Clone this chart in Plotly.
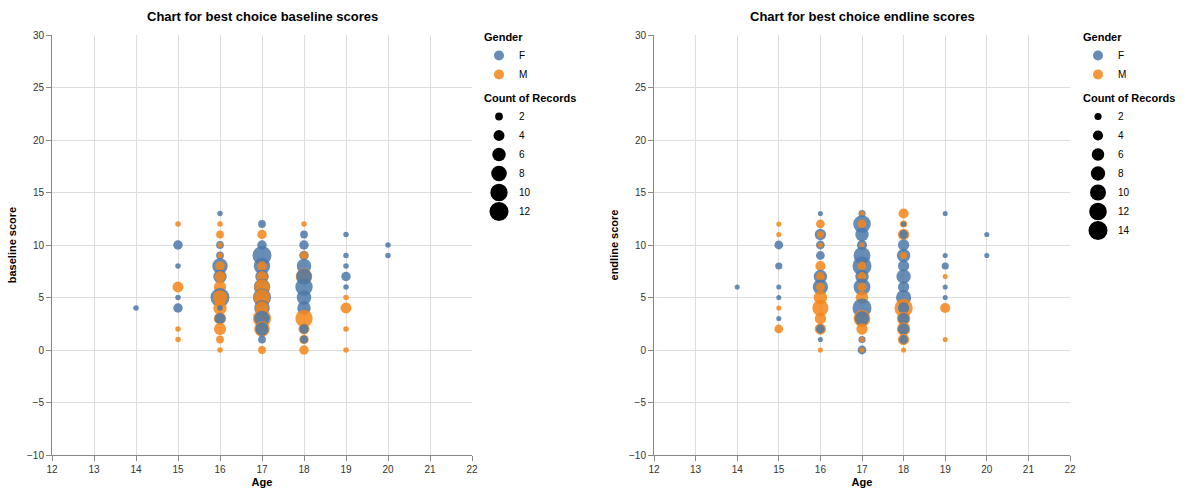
import plotly.graph_objects as go

# ---- baseline data: age, score, gender, count of records (one entry per circle)
base_age = [14,
            15, 15, 15, 15, 15, 15, 15, 15,
            16, 16, 16, 16, 16, 16, 16, 16, 16, 16, 16, 16, 16, 16, 16, 16, 16, 16, 16, 16, 16,
            17, 17, 17, 17, 17, 17, 17, 17, 17, 17, 17, 17, 17, 17, 17, 17, 17, 17, 17, 17,
            18, 18, 18, 18, 18, 18, 18, 18, 18, 18, 18, 18, 18, 18, 18, 18, 18,
            19, 19, 19, 19, 19, 19, 19, 19, 19,
            20, 20]
base_score = [4,
              12, 10, 8, 6, 5, 4, 2, 1,
              13, 12, 11, 10, 10, 9, 9, 8, 8, 7, 7, 6, 5, 5, 4, 4, 3, 3, 2, 1, 0,
              12, 11, 10, 9, 8, 8, 7, 7, 6, 6, 5, 5, 4, 4, 3, 3, 2, 2, 1, 0,
              12, 11, 10, 9, 9, 8, 7, 7, 6, 5, 4, 3, 2, 2, 1, 1, 0,
              11, 9, 8, 7, 6, 5, 4, 2, 0,
              10, 9]
base_gender = ["F",
               "M", "F", "F", "M", "F", "F", "M", "M",
               "F", "M", "M", "F", "M", "F", "M", "F", "M", "F", "M", "M", "F", "M", "M", "F", "M", "F", "M", "M", "M",
               "F", "M", "F", "F", "F", "M", "F", "M", "F", "M", "F", "M", "F", "M", "M", "F", "M", "F", "F", "M",
               "M", "F", "F", "F", "M", "F", "M", "F", "F", "F", "F", "M", "M", "F", "M", "F", "M",
               "F", "F", "F", "F", "F", "M", "M", "M", "M",
               "F", "F"]
base_count = [1,
              1, 3, 1, 4, 1, 3, 1, 1,
              1, 1, 2, 2, 1, 2, 1, 8, 3, 6, 4, 5, 12, 7, 6, 1, 5, 4, 5, 2, 1,
              2, 3, 3, 12, 9, 3, 6, 4, 9, 8, 11, 9, 8, 6, 11, 8, 8, 6, 2, 2,
              1, 2, 3, 3, 2, 7, 9, 8, 10, 7, 6, 10, 4, 3, 3, 2, 3,
              1, 1, 1, 3, 1, 1, 4, 1, 1,
              1, 1]

# ---- endline data
end_age = [14,
           15, 15, 15, 15, 15, 15, 15, 15, 15,
           16, 16, 16, 16, 16, 16, 16, 16, 16, 16, 16, 16, 16, 16, 16, 16, 16, 16, 16,
           17, 17, 17, 17, 17, 17, 17, 17, 17, 17, 17, 17, 17, 17, 17, 17, 17, 17, 17, 17, 17, 17, 17,
           18, 18, 18, 18, 18, 18, 18, 18, 18, 18, 18, 18, 18, 18, 18, 18, 18, 18, 18, 18, 18,
           19, 19, 19, 19, 19, 19, 19, 19,
           20, 20]
end_score = [6,
             12, 11, 10, 8, 6, 5, 4, 3, 2,
             13, 12, 11, 11, 10, 10, 9, 8, 7, 7, 6, 6, 5, 4, 3, 2, 2, 1, 0,
             13, 13, 12, 12, 11, 10, 10, 9, 8, 8, 7, 7, 6, 6, 5, 4, 3, 3, 2, 1, 1, 0, 0,
             13, 12, 12, 11, 11, 10, 9, 9, 8, 7, 6, 5, 4, 4, 3, 3, 2, 2, 1, 1, 0,
             13, 9, 8, 7, 6, 5, 4, 1,
             11, 9]
end_gender = ["F",
              "M", "M", "F", "F", "F", "F", "M", "F", "M",
              "F", "M", "F", "M", "F", "M", "F", "M", "F", "M", "F", "M", "M", "M", "M", "M", "F", "F", "M",
              "F", "M", "F", "M", "F", "F", "M", "F", "F", "M", "F", "M", "F", "M", "M", "F", "M", "F", "M", "F", "M", "F", "M",
              "M", "M", "F", "M", "F", "F", "F", "M", "F", "F", "F", "F", "M", "F", "M", "F", "M", "F", "M", "F", "M",
              "F", "F", "F", "M", "F", "F", "M", "M",
              "F", "F"]
end_count = [1,
             1, 1, 3, 2, 1, 1, 1, 1, 3,
             1, 3, 5, 2, 3, 1, 3, 4, 7, 3, 9, 3, 7, 10, 5, 5, 3, 1, 1,
             2, 1, 12, 3, 7, 4, 1, 11, 14, 3, 7, 3, 11, 3, 6, 14, 11, 8, 5, 2, 1, 3, 1,
             4, 2, 1, 5, 3, 5, 7, 2, 5, 8, 5, 9, 13, 5, 7, 5, 7, 5, 5, 3, 1,
             1, 1, 2, 1, 1, 1, 4, 1,
             1, 1]

genders = ["F", "M"]
gender_colors = {"F": "#4c78a8", "M": "#f58518"}
base_legend_counts = [2, 4, 6, 8, 10, 12]
end_legend_counts = [2, 4, 6, 8, 10, 12, 14]
titles = ["Chart for best choice baseline scores", "Chart for best choice endline scores"]
y_titles = ["baseline score", "endline score"]

FONT = "Liberation Sans, Arial, sans-serif"
MAX_D = 19.0  # diameter (px) of the largest legend count

fig = go.Figure()

panels = [
    (base_age, base_score, base_gender, base_count, base_legend_counts, "x", "y", "legend"),
    (end_age, end_score, end_gender, end_count, end_legend_counts, "x2", "y2", "legend2"),
]

for ages, scores, gends, counts, leg_counts, xa, ya, lg in panels:
    assert len(ages) == len(scores) == len(gends) == len(counts)
    cmax = max(leg_counts)
    fig.add_trace(go.Scatter(
        x=ages, y=scores, mode="markers", xaxis=xa, yaxis=ya, showlegend=False,
        marker=dict(size=counts, sizemode="area", sizeref=2.0 * cmax / MAX_D ** 2,
                    color=[gender_colors[g] for g in gends], opacity=0.85,
                    line=dict(width=0)),
        customdata=gends,
        hovertemplate="Age %{x}<br>score %{y}<br>Gender %{customdata}<br>Count %{marker.size}<extra></extra>",
    ))
    for g in genders:
        fig.add_trace(go.Scatter(
            x=[None], y=[None], mode="markers", xaxis=xa, yaxis=ya, name=g,
            legend=lg, legendgroup="gender", legendgrouptitle=dict(text="<b>Gender</b>"),
            marker=dict(size=10, color=gender_colors[g], opacity=0.85),
        ))
    for c in leg_counts:
        d = (c / cmax) ** 0.5 * MAX_D
        fig.add_trace(go.Scatter(
            x=[None], y=[None], mode="markers", xaxis=xa, yaxis=ya, name=str(c),
            legend=lg, legendgroup="count", legendgrouptitle=dict(text="<b>Count of Records</b>"),
            marker=dict(size=min(d, 16), color="black",
                        line=dict(width=max(0.0, d - 16), color="black")),
        ))

W, H = 1196, 492
dom_x = [[52 / W, 472 / W], [654 / W, 1070 / W]]
dom_y = [1 - 455 / H, 1 - 35 / H]

axis_common = dict(
    showgrid=True, gridcolor="#dddddd", gridwidth=1,
    showline=True, linecolor="#888888", linewidth=1,
    ticks="outside", ticklen=5, tickcolor="#888888",
    tickfont=dict(family=FONT, size=10, color="#333333"),
    zeroline=False, automargin=False,
)

layout = dict(
    width=W, height=H,
    margin=dict(l=0, r=0, t=0, b=0, autoexpand=False),
    paper_bgcolor="white", plot_bgcolor="white",
    font=dict(family=FONT, color="#000000"),
    showlegend=True,
)
for i, (xa, ya) in enumerate([("xaxis", "yaxis"), ("xaxis2", "yaxis2")]):
    layout[xa] = dict(axis_common, domain=dom_x[i], range=[12, 22], dtick=1, tick0=12,
                      anchor="y" if i == 0 else "y2",
                      title=dict(text="<b>Age</b>", font=dict(family=FONT, size=11), standoff=4))
    layout[ya] = dict(axis_common, domain=dom_y, range=[-10, 30], dtick=5, tick0=0,
                      anchor="x" if i == 0 else "x2",
                      title=dict(text="<b>" + y_titles[i] + "</b>", font=dict(family=FONT, size=11), standoff=8))

leg_style = dict(
    bgcolor="rgba(0,0,0,0)", borderwidth=0,
    font=dict(family=FONT, size=10, color="#000000"),
    grouptitlefont=dict(family=FONT, size=11, color="#000000"),
    itemsizing="trace", tracegroupgap=4,
    xanchor="left", yanchor="top", y=1 - 22 / H,
)
layout["legend"] = dict(leg_style, x=479 / W)
layout["legend2"] = dict(leg_style, x=1078 / W)

annotations = []
for i in range(2):
    annotations.append(dict(
        text="<b>" + titles[i] + "</b>", xref="paper", yref="paper",
        x=(dom_x[i][0] + dom_x[i][1]) / 2, y=1 - 17 / H, xanchor="center", yanchor="middle",
        showarrow=False, font=dict(family=FONT, size=13, color="#000000"),
    ))
layout["annotations"] = annotations

fig.update_layout(**layout)
fig.write_html("out.html")
